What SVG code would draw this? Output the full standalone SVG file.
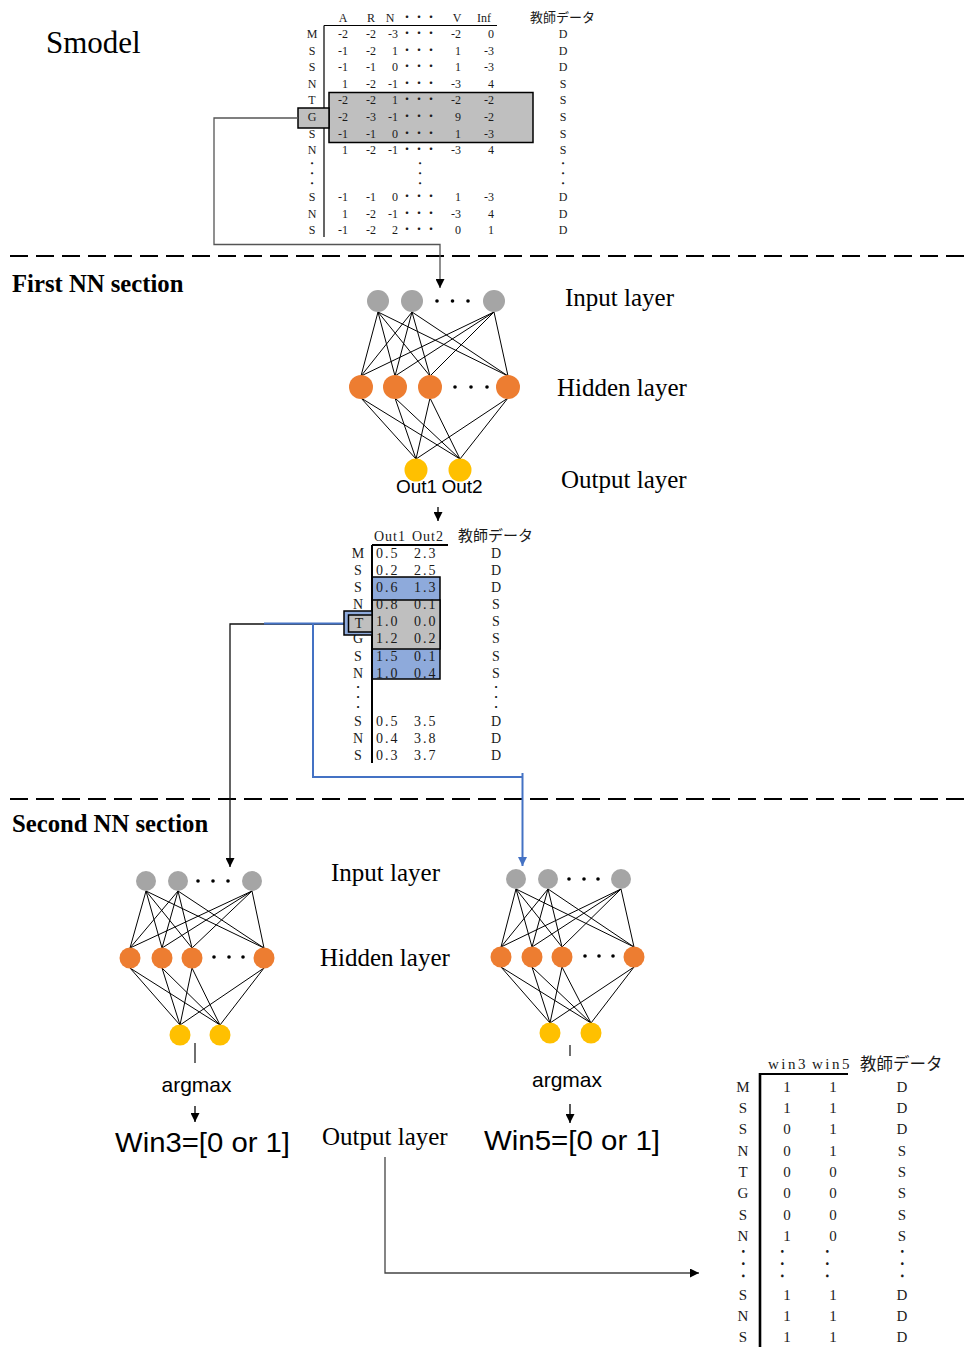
<svg xmlns="http://www.w3.org/2000/svg" width="965" height="1353" viewBox="0 0 965 1353">
<style>
  .serif { font-family: "Liberation Serif", "Noto Sans CJK JP", serif; fill: #1a1a1a; }
  .jp { font-family: "Noto Sans CJK JP", sans-serif; fill: #1a1a1a; }
  .sans { font-family: "Liberation Sans", Arial, sans-serif; fill: #000; }
  .tb { font-size: 12px; }
  .tm { font-size: 14px; }
  .tl { font-size: 15px; }
  .mid { text-anchor: middle; }
  .end { text-anchor: end; }
  .vd { font-family: "Noto Sans CJK JP", sans-serif; font-size: 10px; fill: #1a1a1a; text-anchor: middle; }
  .layer { font-family: "Liberation Serif", serif; font-size: 25px; fill: #000; }
  .sec { font-family: "Liberation Serif", serif; font-size: 24.7px; font-weight: bold; fill: #000; }
  .edge { stroke: #000; stroke-width: 1; fill: none; }
  .in { fill: #a5a5a5; }
  .hid { fill: #ed7d31; }
  .out { fill: #ffc000; }
  .dot { fill: #000; }
  .rule { stroke: #000; fill: none; }
  .dash { stroke: #000; stroke-width: 2; stroke-dasharray: 18 8; }
  .gray { fill: #bfbfbf; stroke: #000; stroke-width: 1.5; }
  .blue { fill: #8eaadb; stroke: #000; stroke-width: 1.5; }
  .link { fill: none; stroke: #555; stroke-width: 1.3; }
  .blink { fill: none; stroke: #4472c4; stroke-width: 2; }
</style>
<defs>
  <marker id="ah" viewBox="0 0 10 10" refX="10" refY="5" markerWidth="9" markerHeight="9" markerUnits="userSpaceOnUse" orient="auto">
    <path d="M0,0 L10,5 L0,10 z" fill="#000"/>
  </marker>
  <marker id="ahb" viewBox="0 0 10 10" refX="10" refY="5" markerWidth="9" markerHeight="9" markerUnits="userSpaceOnUse" orient="auto">
    <path d="M0,0 L10,5 L0,10 z" fill="#4472c4"/>
  </marker>
</defs>

<rect width="965" height="1353" fill="#fff"/>

<!-- section titles and separators -->
<text class="serif" x="46" y="53" style="font-size:31px;fill:#000">Smodel</text>
<text class="sec" x="12" y="292">First NN section</text>
<text class="sec" x="12" y="832">Second NN section</text>
<line class="dash" x1="10" y1="256" x2="965" y2="256"/>
<line class="dash" x1="10" y1="799" x2="965" y2="799"/>

<!-- Smodel score table -->
<g id="smodel-table">
  <rect class="gray" x="329" y="92.5" width="204" height="50"/>
  <path class="rule" stroke-width="1.2" d="M324,25.5 H497 M324,25.5 V237"/>
  <rect class="gray" x="298" y="108" width="31" height="20"/>
  <g class="serif tb">
    <text class="mid" y="22"><tspan x="343">A</tspan><tspan x="371">R</tspan><tspan x="390">N</tspan><tspan x="457">V</tspan><tspan x="484">Inf</tspan></text>
    <text x="401" y="22">・・・</text>
    <text class="mid" x="312"><tspan x="312" y="38.3">M</tspan><tspan x="312" y="54.8">S</tspan><tspan x="312" y="71.3">S</tspan><tspan x="312" y="87.8">N</tspan><tspan x="312" y="104.3">T</tspan><tspan x="312" y="121">G</tspan><tspan x="312" y="137.6">S</tspan><tspan x="312" y="154.3">N</tspan><tspan x="312" y="201">S</tspan><tspan x="312" y="217.6">N</tspan><tspan x="312" y="234.3">S</tspan></text>
    <text class="end"><tspan x="348" y="38.3">-2</tspan><tspan x="348" y="54.8">-1</tspan><tspan x="348" y="71.3">-1</tspan><tspan x="348" y="87.8">1</tspan><tspan x="348" y="104.3">-2</tspan><tspan x="348" y="121">-2</tspan><tspan x="348" y="137.6">-1</tspan><tspan x="348" y="154.3">1</tspan><tspan x="348" y="201">-1</tspan><tspan x="348" y="217.6">1</tspan><tspan x="348" y="234.3">-1</tspan></text>
    <text class="end"><tspan x="376" y="38.3">-2</tspan><tspan x="376" y="54.8">-2</tspan><tspan x="376" y="71.3">-1</tspan><tspan x="376" y="87.8">-2</tspan><tspan x="376" y="104.3">-2</tspan><tspan x="376" y="121">-3</tspan><tspan x="376" y="137.6">-1</tspan><tspan x="376" y="154.3">-2</tspan><tspan x="376" y="201">-1</tspan><tspan x="376" y="217.6">-2</tspan><tspan x="376" y="234.3">-2</tspan></text>
    <text class="end"><tspan x="398" y="38.3">-3</tspan><tspan x="398" y="54.8">1</tspan><tspan x="398" y="71.3">0</tspan><tspan x="398" y="87.8">-1</tspan><tspan x="398" y="104.3">1</tspan><tspan x="398" y="121">-1</tspan><tspan x="398" y="137.6">0</tspan><tspan x="398" y="154.3">-1</tspan><tspan x="398" y="201">0</tspan><tspan x="398" y="217.6">-1</tspan><tspan x="398" y="234.3">2</tspan></text>
    <text><tspan x="401" y="38.3">・・・</tspan><tspan x="401" y="54.8">・・・</tspan><tspan x="401" y="71.3">・・・</tspan><tspan x="401" y="87.8">・・・</tspan><tspan x="401" y="104.3">・・・</tspan><tspan x="401" y="121">・・・</tspan><tspan x="401" y="137.6">・・・</tspan><tspan x="401" y="154.3">・・・</tspan><tspan x="401" y="201">・・・</tspan><tspan x="401" y="217.6">・・・</tspan><tspan x="401" y="234.3">・・・</tspan></text>
    <text class="end"><tspan x="461" y="38.3">-2</tspan><tspan x="461" y="54.8">1</tspan><tspan x="461" y="71.3">1</tspan><tspan x="461" y="87.8">-3</tspan><tspan x="461" y="104.3">-2</tspan><tspan x="461" y="121">9</tspan><tspan x="461" y="137.6">1</tspan><tspan x="461" y="154.3">-3</tspan><tspan x="461" y="201">1</tspan><tspan x="461" y="217.6">-3</tspan><tspan x="461" y="234.3">0</tspan></text>
    <text class="end"><tspan x="494" y="38.3">0</tspan><tspan x="494" y="54.8">-3</tspan><tspan x="494" y="71.3">-3</tspan><tspan x="494" y="87.8">4</tspan><tspan x="494" y="104.3">-2</tspan><tspan x="494" y="121">-2</tspan><tspan x="494" y="137.6">-3</tspan><tspan x="494" y="154.3">4</tspan><tspan x="494" y="201">-3</tspan><tspan x="494" y="217.6">4</tspan><tspan x="494" y="234.3">1</tspan></text>
    <text class="mid"><tspan x="563" y="38.3">D</tspan><tspan x="563" y="54.8">D</tspan><tspan x="563" y="71.3">D</tspan><tspan x="563" y="87.8">S</tspan><tspan x="563" y="104.3">S</tspan><tspan x="563" y="121">S</tspan><tspan x="563" y="137.6">S</tspan><tspan x="563" y="154.3">S</tspan><tspan x="563" y="201">D</tspan><tspan x="563" y="217.6">D</tspan><tspan x="563" y="234.3">D</tspan></text>
  </g>
  <!-- vertical ellipses: three dots turned upright around their middle dot -->
  <text class="vd" x="312" y="177.1" transform="rotate(90 312 173.3)">・・・</text>
  <text class="vd" x="420" y="177.1" transform="rotate(90 420 173.3)">・・・</text>
  <text class="vd" x="563" y="177.1" transform="rotate(90 563 173.3)">・・・</text>
  <text class="jp" x="530" y="22" style="font-size:13px">教師データ</text>
</g>

<!-- connectors -->
<g id="connectors">
  <path class="link" d="M298,118 H214 V244.5 H440 V288" marker-end="url(#ah)"/>
  <path class="link" style="stroke:#000" d="M438,507 V521" marker-end="url(#ah)"/>
  <path class="link" style="stroke:#111" d="M344,624 H230 V867" marker-end="url(#ah)"/>
  <path class="blink" d="M344,623.5 H264 M313,623.5 V777 H522.5"/>
  <path class="blink" d="M522.5,773 V866" marker-end="url(#ahb)"/>
  <path class="link" style="stroke:#222" d="M195,1043 V1063"/>
  <path class="link" style="stroke:#000" d="M195,1106 V1122" marker-end="url(#ah)"/>
  <path class="link" style="stroke:#222" d="M570,1045 V1056"/>
  <path class="link" style="stroke:#000" d="M570,1104 V1123" marker-end="url(#ah)"/>
  <path class="link" style="stroke:#444" d="M385,1157 V1273 H699" marker-end="url(#ah)"/>

  <!-- first network weights -->
  <path class="edge" d="M378,312L361,376 M378,312L395,376 M378,312L430,376 M378,312L508,376
    M412,312L361,376 M412,312L395,376 M412,312L430,376 M412,312L508,376
    M494,312L361,376 M494,312L395,376 M494,312L430,376 M494,312L508,376
    M361,398L416,459 M361,398L460,459 M395,398L416,459 M395,398L460,459
    M430,398L416,459 M430,398L460,459 M508,398L416,459 M508,398L460,459"/>
  <!-- second network (win3) weights -->
  <path class="edge" d="M146,891L130,948 M146,891L162,948 M146,891L192,948 M146,891L264,948
    M178,891L130,948 M178,891L162,948 M178,891L192,948 M178,891L264,948
    M252,891L130,948 M252,891L162,948 M252,891L192,948 M252,891L264,948
    M130,968L180,1025 M130,968L220,1025 M162,968L180,1025 M162,968L220,1025
    M192,968L180,1025 M192,968L220,1025 M264,968L180,1025 M264,968L220,1025"/>
  <!-- second network (win5) weights -->
  <path class="edge" d="M516,889L501,947 M516,889L532,947 M516,889L562,947 M516,889L634,947
    M548,889L501,947 M548,889L532,947 M548,889L562,947 M548,889L634,947
    M621,889L501,947 M621,889L532,947 M621,889L562,947 M621,889L634,947
    M501,967L550,1023 M501,967L591,1023 M532,967L550,1023 M532,967L591,1023
    M562,967L550,1023 M562,967L591,1023 M634,967L550,1023 M634,967L591,1023"/>
</g>

<!-- first network -->
<g id="nn1">
  <g id="nn1-in1"><circle class="in" cx="378" cy="301" r="11"/></g>
  <g id="nn1-in2"><circle class="in" cx="412" cy="301" r="11"/></g>
  <g id="nn1-in3"><circle class="in" cx="494" cy="301" r="11"/></g>
  <g id="nn1-in-more"><circle class="dot" cx="437" cy="301" r="1.8"/><circle class="dot" cx="452.5" cy="301" r="1.8"/><circle class="dot" cx="468" cy="301" r="1.8"/></g>
  <g id="nn1-h1"><circle class="hid" cx="361" cy="387" r="12"/></g>
  <g id="nn1-h2"><circle class="hid" cx="395" cy="387" r="12"/></g>
  <g id="nn1-h3"><circle class="hid" cx="430" cy="387" r="12"/></g>
  <g id="nn1-h4"><circle class="hid" cx="508" cy="387" r="12"/></g>
  <g id="nn1-h-more"><circle class="dot" cx="455" cy="387" r="1.8"/><circle class="dot" cx="471" cy="387" r="1.8"/><circle class="dot" cx="487" cy="387" r="1.8"/></g>
  <g id="nn1-out1"><circle class="out" cx="416" cy="470" r="11.5"/><text class="sans mid" x="416.5" y="493" style="font-size:19px">Out1</text></g>
  <g id="nn1-out2"><circle class="out" cx="460" cy="470" r="11.5"/><text class="sans mid" x="462" y="493" style="font-size:19px">Out2</text></g>
  <text class="layer" x="565" y="306">Input layer</text>
  <text class="layer" x="557" y="396">Hidden layer</text>
  <text class="layer" x="561" y="488">Output layer</text>
</g>

<!-- first network output table -->
<g id="out-table">
  <rect class="blue" x="372" y="577" width="68" height="102"/>
  <rect class="gray" x="372" y="600" width="68" height="49"/>
  <path class="rule" stroke-width="2" d="M372,545 H448 M372,545 V763"/>
  <g class="serif tm">
    <text style="letter-spacing:1px" y="541"><tspan x="374">Out1</tspan><tspan x="412">Out2</tspan></text>
    <text class="mid"><tspan x="358" y="558">M</tspan><tspan x="358" y="575">S</tspan><tspan x="358" y="592">S</tspan><tspan x="358" y="609">N</tspan><tspan x="358" y="643">G</tspan><tspan x="358" y="661">S</tspan><tspan x="358" y="678">N</tspan><tspan x="358" y="725.7">S</tspan><tspan x="358" y="743.3">N</tspan><tspan x="358" y="760">S</tspan></text>
    <text style="letter-spacing:2px"><tspan x="376" y="558">0.5</tspan><tspan x="376" y="575">0.2</tspan><tspan x="376" y="592">0.6</tspan><tspan x="376" y="609">0.8</tspan><tspan x="376" y="626">1.0</tspan><tspan x="376" y="643">1.2</tspan><tspan x="376" y="661">1.5</tspan><tspan x="376" y="678">1.0</tspan><tspan x="376" y="725.7">0.5</tspan><tspan x="376" y="743.3">0.4</tspan><tspan x="376" y="760">0.3</tspan></text>
    <text style="letter-spacing:2px"><tspan x="414" y="558">2.3</tspan><tspan x="414" y="575">2.5</tspan><tspan x="414" y="592">1.3</tspan><tspan x="414" y="609">0.1</tspan><tspan x="414" y="626">0.0</tspan><tspan x="414" y="643">0.2</tspan><tspan x="414" y="661">0.1</tspan><tspan x="414" y="678">0.4</tspan><tspan x="414" y="725.7">3.5</tspan><tspan x="414" y="743.3">3.8</tspan><tspan x="414" y="760">3.7</tspan></text>
    <text class="mid"><tspan x="496" y="558">D</tspan><tspan x="496" y="575">D</tspan><tspan x="496" y="592">D</tspan><tspan x="496" y="609">S</tspan><tspan x="496" y="626">S</tspan><tspan x="496" y="643">S</tspan><tspan x="496" y="661">S</tspan><tspan x="496" y="678">S</tspan><tspan x="496" y="725.7">D</tspan><tspan x="496" y="743.3">D</tspan><tspan x="496" y="760">D</tspan></text>
  </g>
  <text class="vd" x="358" y="700.8" transform="rotate(90 358 697)">・・・</text>
  <text class="vd" x="496" y="700.8" transform="rotate(90 496 697)">・・・</text>
  <text class="jp" x="458" y="541" style="font-size:15px">教師データ</text>
  <rect class="blue" x="344" y="611" width="28" height="24"/>
  <rect class="gray" x="348.5" y="615" width="23.5" height="17"/>
  <text class="serif tm mid" x="359" y="628">T</text>
</g>

<!-- second network, window 3 -->
<g id="nn2a">
  <g id="nn2a-in1"><circle class="in" cx="146" cy="881" r="10"/></g>
  <g id="nn2a-in2"><circle class="in" cx="178" cy="881" r="10"/></g>
  <g id="nn2a-in3"><circle class="in" cx="252" cy="881" r="10"/></g>
  <g id="nn2a-in-more"><circle class="dot" cx="198" cy="881" r="1.8"/><circle class="dot" cx="213" cy="881" r="1.8"/><circle class="dot" cx="228" cy="881" r="1.8"/></g>
  <g id="nn2a-h1"><circle class="hid" cx="130" cy="958" r="10.5"/></g>
  <g id="nn2a-h2"><circle class="hid" cx="162" cy="958" r="10.5"/></g>
  <g id="nn2a-h3"><circle class="hid" cx="192" cy="958" r="10.5"/></g>
  <g id="nn2a-h4"><circle class="hid" cx="264" cy="958" r="10.5"/></g>
  <g id="nn2a-h-more"><circle class="dot" cx="214" cy="957" r="1.8"/><circle class="dot" cx="229" cy="957" r="1.8"/><circle class="dot" cx="243" cy="957" r="1.8"/></g>
  <g id="nn2a-out1"><circle class="out" cx="180" cy="1035" r="10.5"/></g>
  <g id="nn2a-out2"><circle class="out" cx="220" cy="1035" r="10.5"/></g>
  <text class="sans mid" x="196.5" y="1092" style="font-size:21px">argmax</text>
  <text class="sans" x="115" y="1152" style="font-size:27px" textLength="175" lengthAdjust="spacingAndGlyphs">Win3=[0 or 1]</text>
</g>

<!-- second network, window 5 -->
<g id="nn2b">
  <g id="nn2b-in1"><circle class="in" cx="516" cy="879" r="10"/></g>
  <g id="nn2b-in2"><circle class="in" cx="548" cy="879" r="10"/></g>
  <g id="nn2b-in3"><circle class="in" cx="621" cy="879" r="10"/></g>
  <g id="nn2b-in-more"><circle class="dot" cx="569" cy="879" r="1.8"/><circle class="dot" cx="584" cy="879" r="1.8"/><circle class="dot" cx="598" cy="879" r="1.8"/></g>
  <g id="nn2b-h1"><circle class="hid" cx="501" cy="957" r="10.5"/></g>
  <g id="nn2b-h2"><circle class="hid" cx="532" cy="957" r="10.5"/></g>
  <g id="nn2b-h3"><circle class="hid" cx="562" cy="957" r="10.5"/></g>
  <g id="nn2b-h4"><circle class="hid" cx="634" cy="957" r="10.5"/></g>
  <g id="nn2b-h-more"><circle class="dot" cx="585" cy="956" r="1.8"/><circle class="dot" cx="599" cy="956" r="1.8"/><circle class="dot" cx="613" cy="956" r="1.8"/></g>
  <g id="nn2b-out1"><circle class="out" cx="550" cy="1033" r="10.5"/></g>
  <g id="nn2b-out2"><circle class="out" cx="591" cy="1033" r="10.5"/></g>
  <text class="sans mid" x="567" y="1087" style="font-size:21px">argmax</text>
  <text class="sans" x="484" y="1150" style="font-size:27px" textLength="176" lengthAdjust="spacingAndGlyphs">Win5=[0 or 1]</text>
</g>

<g id="nn2-layers">
  <text class="layer" x="331" y="881">Input layer</text>
  <text class="layer" x="320" y="966">Hidden layer</text>
  <text class="layer" x="322" y="1145">Output layer</text>
</g>

<!-- final window table -->
<g id="win-table">
  <path class="rule" stroke-width="2" d="M760,1074 H848"/>
  <path class="rule" stroke-width="2.6" d="M760,1073 V1347"/>
  <g class="serif tl">
    <text class="mid" style="letter-spacing:2.5px" y="1069"><tspan x="788">win3</tspan><tspan x="832">win5</tspan></text>
    <text class="mid"><tspan x="743" y="1091.5">M</tspan><tspan x="743" y="1112.8">S</tspan><tspan x="743" y="1134.1">S</tspan><tspan x="743" y="1155.5">N</tspan><tspan x="743" y="1176.8">T</tspan><tspan x="743" y="1198.1">G</tspan><tspan x="743" y="1219.5">S</tspan><tspan x="743" y="1240.8">N</tspan><tspan x="743" y="1299.5">S</tspan><tspan x="743" y="1320.8">N</tspan><tspan x="743" y="1342.1">S</tspan></text>
    <text class="mid"><tspan x="787" y="1091.5">1</tspan><tspan x="787" y="1112.8">1</tspan><tspan x="787" y="1134.1">0</tspan><tspan x="787" y="1155.5">0</tspan><tspan x="787" y="1176.8">0</tspan><tspan x="787" y="1198.1">0</tspan><tspan x="787" y="1219.5">0</tspan><tspan x="787" y="1240.8">1</tspan><tspan x="787" y="1299.5">1</tspan><tspan x="787" y="1320.8">1</tspan><tspan x="787" y="1342.1">1</tspan></text>
    <text class="mid"><tspan x="833" y="1091.5">1</tspan><tspan x="833" y="1112.8">1</tspan><tspan x="833" y="1134.1">1</tspan><tspan x="833" y="1155.5">1</tspan><tspan x="833" y="1176.8">0</tspan><tspan x="833" y="1198.1">0</tspan><tspan x="833" y="1219.5">0</tspan><tspan x="833" y="1240.8">0</tspan><tspan x="833" y="1299.5">1</tspan><tspan x="833" y="1320.8">1</tspan><tspan x="833" y="1342.1">1</tspan></text>
    <text class="mid"><tspan x="902" y="1091.5">D</tspan><tspan x="902" y="1112.8">D</tspan><tspan x="902" y="1134.1">D</tspan><tspan x="902" y="1155.5">S</tspan><tspan x="902" y="1176.8">S</tspan><tspan x="902" y="1198.1">S</tspan><tspan x="902" y="1219.5">S</tspan><tspan x="902" y="1240.8">S</tspan><tspan x="902" y="1299.5">D</tspan><tspan x="902" y="1320.8">D</tspan><tspan x="902" y="1342.1">D</tspan></text>
  </g>
  <text class="vd" x="743" y="1268.3" style="font-size:12.3px" transform="rotate(90 743 1263.6)">・・・</text>
  <text class="vd" x="782" y="1268.3" style="font-size:12.3px" transform="rotate(90 782 1263.6)">・・・</text>
  <text class="vd" x="827" y="1268.3" style="font-size:12.3px" transform="rotate(90 827 1263.6)">・・・</text>
  <text class="vd" x="902" y="1268.3" style="font-size:12.3px" transform="rotate(90 902 1263.6)">・・・</text>
  <text class="jp" x="860" y="1070" style="font-size:16.5px">教師データ</text>
</g>
</svg>
